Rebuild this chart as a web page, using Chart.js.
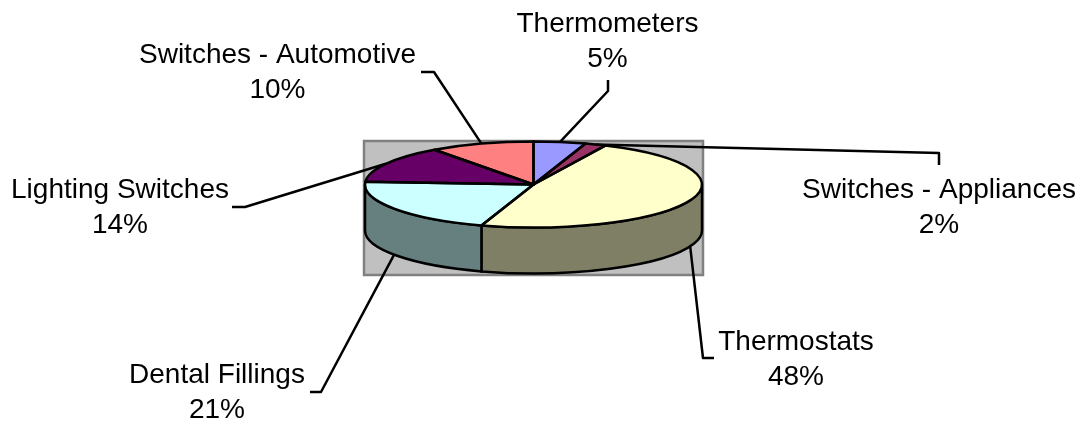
<!DOCTYPE html>
<html>
<head>
<meta charset="utf-8">
<style>html,body{margin:0;padding:0;background:#fff}canvas{display:block}</style>
<script src="https://cdn.jsdelivr.net/npm/chart.js@4"></script>
</head>
<body>
<canvas id="c" width="1088" height="422"></canvas>
<script>
const categories = ["Thermometers", "Switches - Appliances", "Thermostats", "Dental Fillings", "Lighting Switches", "Switches - Automotive"];
const shares = [5, 2, 48, 21, 14, 10];
const sliceColors = ["#9999FF", "#993366", "#FFFFCC", "#CCFFFF", "#660066", "#FF8080"];

// Layout of the labels: text centre, baseline of the name line, elbow and end of each leader
const labelLayout = [
  {cx: 607.5, y: 31.5, elbow: [608, 91],  end: [608, 80]},
  {cx: 939, y: 197.5, elbow: [939, 153], end: [939, 165]},
  {cx: 796, y: 349.5, elbow: [703, 358], end: [714, 358]},
  {cx: 217, y: 382.5, elbow: [321, 392], end: [310, 392]},
  {cx: 120, y: 198,   elbow: [245, 207], end: [232, 207]},
  {cx: 277.5, y: 62.5, elbow: [434, 72],  end: [421, 72]}
];
const view = {cy: 184.5, ry: 43, depth: 46, plot: [364, 141, 339, 134]};
const fontSpec = '28px "Liberation Sans", Arial, sans-serif';

function darken(hex) {
  const n = parseInt(hex.slice(1), 16);
  return `rgb(${(n >> 16 & 255) >> 1},${(n >> 8 & 255) >> 1},${(n & 255) >> 1})`;
}

const pie3d = {
  id: 'pie3d',
  beforeDatasetsDraw(chart) {
    const ctx = chart.ctx, arcs = chart.getDatasetMeta(0).data;
    const {x: cx, outerRadius: rx} = arcs[0].getProps(['x', 'outerRadius'], true);
    const [px, py, pw, ph] = view.plot;
    ctx.save();
    ctx.fillStyle = '#C0C0C0';
    ctx.strokeStyle = '#808080';
    ctx.lineWidth = 2.5;
    ctx.fillRect(px, py, pw, ph);
    ctx.strokeRect(px, py, pw, ph);
    // side wall: the front half of each slice, extruded downward
    ctx.strokeStyle = '#000';
    arcs.forEach((arc, i) => {
      const a0 = Math.max(arc.startAngle, 0), a1 = Math.min(arc.endAngle, Math.PI);
      if (a1 <= a0) return;
      ctx.beginPath();
      ctx.ellipse(cx, view.cy, rx, view.ry, 0, a0, a1);
      ctx.ellipse(cx, view.cy + view.depth, rx, view.ry, 0, a1, a0, true);
      ctx.closePath();
      ctx.fillStyle = darken(sliceColors[i]);
      ctx.fill();
      ctx.lineWidth = 2.5;
      ctx.stroke();
    });
    ctx.restore();
    // flatten the library's own pie into the top face
    ctx.save();
    const cyChart = arcs[0].y;
    ctx.translate(0, view.cy);
    ctx.scale(1, view.ry / rx);
    ctx.translate(0, -cyChart);
  },
  afterDatasetsDraw(chart) {
    const ctx = chart.ctx, arcs = chart.getDatasetMeta(0).data;
    ctx.restore();
    const cx = arcs[0].x, rx = arcs[0].outerRadius;
    ctx.save();
    ctx.strokeStyle = '#000';
    ctx.lineWidth = 2.5;
    ctx.lineJoin = 'round';
    arcs.forEach(arc => {
      ctx.beginPath();
      ctx.moveTo(cx, view.cy);
      ctx.ellipse(cx, view.cy, rx, view.ry, 0, arc.startAngle, arc.endAngle);
      ctx.closePath();
      ctx.stroke();
    });
    // leaders start on the rim at each slice's mid angle
    arcs.forEach((arc, i) => {
      const mid = (arc.startAngle + arc.endAngle) / 2;
      let sx = cx + rx * Math.cos(mid), sy = view.cy + view.ry * Math.sin(mid);
      if (Math.sin(mid) > 0) sy += view.depth;
      const l = labelLayout[i];
      ctx.beginPath();
      ctx.moveTo(sx, sy);
      ctx.lineTo(l.elbow[0], l.elbow[1]);
      ctx.lineTo(l.end[0], l.end[1]);
      ctx.stroke();
    });
    ctx.fillStyle = '#000';
    ctx.font = fontSpec;
    ctx.textAlign = 'center';
    ctx.textBaseline = 'alphabetic';
    const total = shares.reduce((a, b) => a + b, 0);
    categories.forEach((name, i) => {
      const l = labelLayout[i];
      ctx.fillText(name, l.cx, l.y);
      ctx.fillText(Math.round(shares[i] / total * 100) + '%', l.cx, l.y + 35);
    });
    ctx.restore();
  }
};

new Chart(document.getElementById('c'), {
  type: 'pie',
  data: {
    labels: categories,
    datasets: [{data: shares, backgroundColor: sliceColors, borderWidth: 0, clip: false}]
  },
  options: {
    responsive: false,
    animation: false,
    layout: {padding: {left: 364.5, right: 385.5, top: 42, bottom: 43}},
    plugins: {legend: {display: false}, tooltip: {enabled: false}, title: {display: false}}
  },
  plugins: [pie3d]
});
</script>
</body>
</html>
